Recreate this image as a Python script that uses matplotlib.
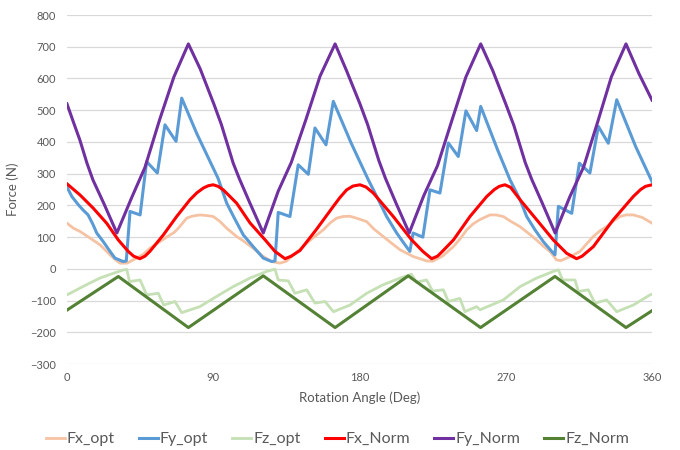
import matplotlib
matplotlib.use('Agg')
import matplotlib.pyplot as plt

plt.rcParams['font.family'] = ['Lato', 'DejaVu Sans']

# Values (force in N vs rotation angle in deg)
fx_opt_deg = [0, 4, 8, 14.2, 20.3, 26.5, 30, 32.6, 36.9, 42.9, 47, 51, 57.2, 63.4, 66, 68.5, 73.7, 77, 81.8, 86,
              90, 94, 98.3, 104.4, 108, 114.6, 120.8, 126, 131, 135, 139.3, 143, 147.5, 152, 157.7, 162, 166, 170, 174, 178,
              184.4, 189, 194.6, 200, 205, 213, 217.2, 221.3, 225, 231, 237.8, 242, 246, 250, 254, 260.3, 264, 268.5, 273, 278.8,
              284, 289, 293, 297.2, 301.3, 304, 307.5, 311, 315.7, 320, 323.9, 328, 332.1, 336, 340.3, 344, 348.5, 354, 360]
fx_opt = [144, 128, 118, 97, 76, 44, 28, 18, 18, 34, 46, 65, 86, 107, 115, 128, 160, 166, 170, 168,
          165, 150, 128, 102, 90, 65, 39, 23, 18, 24, 44, 60, 81, 100, 123, 145, 160, 165, 166, 160,
          149, 125, 102, 80, 60, 39, 32, 25, 24, 40, 70, 95, 123, 142, 155, 170, 170, 165, 150, 133,
          112, 91, 72, 55, 28, 26, 34, 42, 55, 80, 102, 120, 133, 150, 165, 170, 170, 162, 144]

fy_opt_deg = [0, 3, 7, 10, 13, 16, 18.3, 22.3, 26.5, 29.5, 34.6, 36.5, 38.8, 45, 49, 55.6, 60.3, 67.1, 70.6, 80,
              93, 98.3, 103, 108.5, 114.6, 120.8, 126, 128, 130, 137.2, 142.3, 148.5, 152.6, 159.4, 163.9, 175, 185.4, 191.6, 196.7, 202.9,
              208, 211, 213, 219, 223.4, 229.5, 234.7, 240.8, 245.5, 252.1, 254.6, 265, 272.6, 278.8, 282.9, 288, 293.1, 298.3, 300.3, 302.4,
              310.6, 315.3, 321.8, 327, 333.1, 338.3, 350, 360]
fy_opt = [258, 228, 202, 185, 170, 140, 113, 86, 55, 34, 23, 25, 181, 170, 338, 302, 454, 402, 538, 425,
          285, 207, 160, 107, 70, 34, 23, 25, 178, 165, 328, 298, 444, 391, 528, 395, 281, 218, 165, 113,
          76, 55, 113, 100, 249, 239, 397, 354, 498, 436, 512, 375, 281, 218, 165, 123, 86, 55, 44, 197,
          175, 333, 302, 449, 396, 533, 385, 275]

fz_opt_deg = [0, 6, 12, 20.3, 28.5, 35, 36.8, 38.5, 45, 49, 56.2, 59.5, 66.5, 70.6, 81.8, 92, 102.3, 112.6, 122.9, 128,
              130, 136.2, 140.3, 147.5, 152.6, 158.8, 164, 174.2, 184.4, 194.6, 205, 212, 215, 221.3, 225, 231.6, 234.7, 241.8, 244.9, 252.1,
              254.2, 268.5, 278.8, 289, 299.3, 302.4, 305, 312.6, 314.7, 320.8, 324.9, 332.1, 338.3, 348.5, 358.8, 360]
fz_opt = [-82, -66, -50, -29, -14, -3, -2, -40, -35, -82, -77, -114, -103, -138, -119, -87, -56, -29, -8, -1,
          -35, -38, -77, -66, -108, -103, -135, -114, -77, -50, -29, -17, -42, -35, -70, -66, -103, -93, -135, -119,
          -129, -98, -56, -29, -8, -3, -35, -35, -71, -66, -108, -98, -135, -114, -82, -80]

fx_norm_deg = [0, 8, 16.2, 24.4, 31.6, 37.7, 41, 44.9, 48, 51, 59.3, 67.5, 75.7, 80, 84, 87, 90, 93, 96.2, 104.4,
               112.6, 122.5, 128, 134.2, 138, 143.4, 153.6, 163.9, 168, 172.1, 176, 180.3, 184, 188.5, 200.8, 212, 219, 224.4, 228, 231,
               237.8, 248, 258.3, 263, 266, 269.5, 273, 278.8, 289, 299.3, 307.5, 313.6, 317, 323.9, 336.2, 348.5, 353, 356, 360]
fx_norm = [268, 233, 191, 144, 91, 55, 40, 32, 40, 55, 107, 165, 218, 240, 255, 262, 265, 260, 249, 207,
           145, 88, 55, 32, 40, 58, 125, 197, 225, 249, 261, 265, 258, 239, 165, 92, 55, 32, 40, 55,
           91, 165, 228, 250, 260, 265, 257, 218, 155, 91, 49, 32, 40, 70, 155, 228, 250, 260, 265]

fy_norm_deg = [0, 4, 8, 12.3, 16, 22.6, 30.7, 39.6, 48, 57, 65.8, 74.7, 82, 90.5, 95, 102.3, 106, 112.6, 120.8, 130,
               138, 147, 155.7, 165, 172, 180.3, 185, 192, 196, 202.5, 210.6, 219.5, 228, 237, 245.5, 254.6, 262, 270, 275, 282,
               286, 292.5, 300.4, 309.5, 318, 327, 335, 344, 352, 360]
fy_norm = [520, 462, 405, 333, 280, 207, 113, 222, 320, 470, 605, 709, 630, 518, 455, 333, 285, 207, 113, 245,
           335, 470, 607, 709, 625, 520, 455, 340, 285, 207, 113, 230, 325, 470, 605, 709, 625, 520, 452, 335,
           282, 207, 113, 228, 322, 470, 605, 709, 615, 532]

fz_norm_deg = [0, 31.6, 74.7, 120.8, 165, 210, 254.5, 300.3, 344, 360]
fz_norm = [-130, -24, -185, -22, -185, -22, -185, -24, -185, -132]

x_ticks = [0, 90, 180, 270, 360]
y_ticks = list(range(-300, 801, 100))

grey = '#595959'

fig = plt.figure(figsize=(6.8, 4.5), dpi=100)
ax = fig.add_axes([0.0985, 0.191, 0.8603, 0.7756])

#Plot in the legend order so the Norm curves end up on top
ax.plot(fx_opt_deg, fx_opt, color='#F5C3A3', lw=2.0, label='Fx_opt', solid_joinstyle='round')
ax.plot(fy_opt_deg, fy_opt, color='#5B9BD5', lw=2.2, label='Fy_opt', solid_joinstyle='round')
ax.plot(fz_opt_deg, fz_opt, color='#C5E0B4', lw=2.0, label='Fz_opt', solid_joinstyle='round')
ax.plot(fx_norm_deg, fx_norm, color='#FF0000', lw=2.2, label='Fx_Norm', solid_joinstyle='round')
ax.plot(fy_norm_deg, fy_norm, color='#7030A0', lw=2.2, label='Fy_Norm', solid_joinstyle='round')
ax.plot(fz_norm_deg, fz_norm, color='#548235', lw=2.2, label='Fz_Norm', solid_joinstyle='round')

ax.set_xlim(0, 360)
ax.set_ylim(-300, 800)
ax.set_xticks(x_ticks)
ax.set_yticks(y_ticks)
ax.grid(axis='y', color='#D9D9D9', linewidth=0.9)
ax.set_axisbelow(True)
for s in ax.spines.values():
    s.set_visible(False)
ax.tick_params(length=0, colors=grey, labelsize=8)
ax.tick_params(axis='y', pad=8)
ax.tick_params(axis='x', pad=6)

ax.set_xlabel('Rotation Angle (Deg)', fontsize=9.5, color=grey, labelpad=6)
ax.set_ylabel('Force (N)', fontsize=9.5, color=grey, labelpad=8)

fig.legend(loc='center', bbox_to_anchor=(0.496, 1 - 439 / 450), ncol=6, frameon=False,
           fontsize=11.5, handlelength=1.2, handletextpad=0.12, columnspacing=1.5,
           labelcolor=grey)

plt.savefig('out.png', dpi=100)
